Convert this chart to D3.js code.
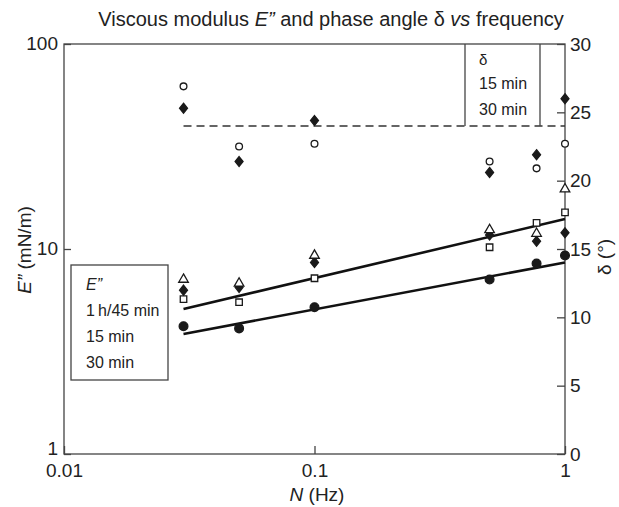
<!DOCTYPE html>
<html><head><meta charset="utf-8">
<script src="https://cdn.jsdelivr.net/npm/d3@7"></script>
<style>body{margin:0;background:#fff}svg{display:block}text{font-family:"Liberation Sans",Arial,sans-serif;fill:#222}</style>
</head><body><svg id="c" width="619" height="507"></svg>
<script>
// ---- data ----
const freq = [0.03, 0.05, 0.1, 0.5, 0.77, 1];
const eTri1h   = [7.1, 6.8, 9.3, 12.4, 11.9, 19.6];   // E'' 1 h (open triangle)
const eDia45   = [6.3, 6.5, 8.6, 11.7, 10.9, 12.0];   // E'' 45 min (filled diamond)
const eSq15    = [5.7, 5.5, 7.2, 10.2, 13.4, 15.1];   // E'' 15 min (open square)
const eCirc30  = [4.2, 4.1, 5.2, 7.1, 8.5, 9.3];      // E'' 30 min (filled circle)
const delta15  = [26.9, 22.5, 22.7, 21.4, 20.9, 22.7]; // delta 15 min (open circle)
const delta30  = [25.3, 21.4, 24.4, 20.6, 21.9, 26.0]; // delta 30 min (filled diamond)
const fitFreq  = [0.03, 1];
const fitUpper = [5.1, 14.0];
const fitLower = [3.85, 8.6];
const deltaRef = 24;
const xTicks = [0.01, 0.1, 1];
const xTickLabels = ["0.01", "0.1", "1"];
const yTicks = [1, 10, 100];
const yTickLabels = ["1", "10", "100"];
const dTicks = [0, 5, 10, 15, 20, 25, 30];
const legendE = ["1\u2009h/45 min", "15 min", "30 min"];
const legendD = ["15 min", "30 min"];

// ---- layout ----
const L = 64, R = 565, T = 44, B = 454;
const svg = d3.select("#c");
const x = d3.scaleLog().domain([0.01, 1]).range([L, R]);
const y = d3.scaleLog().domain([1, 100]).range([B, T]);
const yd = d3.scaleLinear().domain([0, 30]).range([B, T]);
const axisCol = "#444";

// frame
svg.append("rect").attr("x", L).attr("y", T).attr("width", R - L).attr("height", B - T)
  .attr("fill", "none").attr("stroke", axisCol).attr("stroke-width", 1.3);

function styleAxis(g) {
  g.select(".domain").remove();
  g.selectAll("line").attr("stroke", axisCol).attr("stroke-width", 1.3);
  g.selectAll("text").attr("font-size", 19).attr("fill", "#222")
    .attr("font-family", '"Liberation Sans",Arial,sans-serif');
}
svg.append("g").attr("transform", `translate(0,${B})`)
  .call(d3.axisBottom(x).tickValues(xTicks).tickFormat((d, i) => xTickLabels[i]).tickSize(-8).tickSizeOuter(0).tickPadding(10))
  .call(styleAxis);
svg.append("g").attr("transform", `translate(${L},0)`)
  .call(d3.axisLeft(y).tickValues(yTicks).tickFormat((d, i) => yTickLabels[i]).tickSize(-7).tickSizeOuter(0).tickPadding(6))
  .call(styleAxis)
  .call(g => g.selectAll("text").attr("dy", (d, i) => i === 0 ? "0.05em" : "0.3em"));
svg.append("g").attr("transform", `translate(${R},0)`)
  .call(d3.axisRight(yd).tickValues(dTicks).tickFormat(d3.format("d")).tickSize(-8).tickSizeOuter(0).tickPadding(5))
  .call(styleAxis);

// title
const title = svg.append("text").attr("x", 331).attr("y", 26).attr("text-anchor", "middle").attr("font-size", 20);
title.append("tspan").text("Viscous modulus ");
title.append("tspan").attr("font-style", "italic").text("E\u201D");
title.append("tspan").text(" and phase angle \u03B4 ");
title.append("tspan").attr("font-style", "italic").text("vs");
title.append("tspan").text(" frequency");

// axis titles
const xt = svg.append("text").attr("x", 317).attr("y", 501).attr("text-anchor", "middle").attr("font-size", 19);
xt.append("tspan").attr("font-style", "italic").text("N");
xt.append("tspan").text(" (Hz)");
const ylt = svg.append("text").attr("transform", "translate(31,250) rotate(-90)").attr("text-anchor", "middle").attr("font-size", 19);
ylt.append("tspan").attr("font-style", "italic").text("E\u201D");
ylt.append("tspan").text(" (mN/m)");
const yrt = svg.append("text").attr("transform", "translate(611,257) rotate(-90)").attr("text-anchor", "middle").attr("font-size", 19);
yrt.text("\u03B4 (\u00B0)");

// dashed reference line
svg.append("line").attr("x1", x(0.03)).attr("x2", R).attr("y1", yd(deltaRef)).attr("y2", yd(deltaRef))
  .attr("stroke", "#333").attr("stroke-width", 1.3).attr("stroke-dasharray", "8,5");

// delta legend (two vertical lines)
[465, 540].forEach(xx => svg.append("line").attr("x1", xx).attr("x2", xx).attr("y1", T).attr("y2", yd(deltaRef))
  .attr("stroke", axisCol).attr("stroke-width", 1.3));
svg.append("text").attr("x", 479).attr("y", 65).attr("font-size", 15).text("\u03B4");
legendD.forEach((t, i) => svg.append("text").attr("x", 479).attr("y", 89 + i * 26).attr("font-size", 16).text(t));

// E'' legend box
svg.append("rect").attr("x", 71).attr("y", 265).attr("width", 97).attr("height", 115)
  .attr("fill", "#fff").attr("stroke", axisCol).attr("stroke-width", 1.3);
svg.append("text").attr("x", 86).attr("y", 290).attr("font-size", 16).attr("font-style", "italic").text("E\u201D");
legendE.forEach((t, i) => svg.append("text").attr("x", 86).attr("y", 316 + i * 26).attr("font-size", 16).text(t));

// fit lines
const line = d3.line().x(d => x(d[0])).y(d => y(d[1]));
[fitUpper, fitLower].forEach(f => svg.append("path").datum(fitFreq.map((fr, i) => [fr, f[i]]))
  .attr("d", line).attr("fill", "none").attr("stroke", "#111").attr("stroke-width", 2.6));

// markers
const diamond = { draw(ctx, size) { const h = Math.sqrt(size) * 0.95, w = h * 0.8;
  ctx.moveTo(0, -h / 2); ctx.lineTo(w / 2, 0); ctx.lineTo(0, h / 2); ctx.lineTo(-w / 2, 0); ctx.closePath(); } };
function plot(vals, yScale, type, size, filled) {
  svg.append("g").selectAll("path").data(freq.map((f, i) => [f, vals[i]])).join("path")
    .attr("transform", d => `translate(${x(d[0])},${yScale(d[1])})`)
    .attr("d", d3.symbol().type(type).size(size))
    .attr("fill", filled ? "#1a1a1a" : "#fff").attr("stroke", "#1a1a1a").attr("stroke-width", 1.3);
}
plot(eSq15, y, d3.symbolSquare, 42, false);
plot(eDia45, y, diamond, 110, true);
plot(eTri1h, y, d3.symbolTriangle, 40, false);
plot(eCirc30, y, d3.symbolCircle, 60, true);
plot(delta15, yd, d3.symbolCircle, 36, false);
plot(delta30, yd, diamond, 110, true);
</script></body></html>
